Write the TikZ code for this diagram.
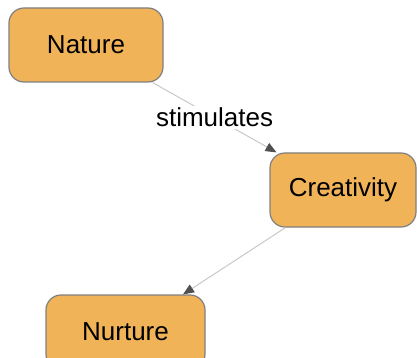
\documentclass[tikz,border=0pt]{standalone}
\usepackage{fontspec}
\setmainfont{Liberation Sans}
\usetikzlibrary{arrows.meta}
\definecolor{boxfill}{HTML}{F0B358}
\definecolor{boxline}{HTML}{7F7F7F}
\definecolor{edgeline}{HTML}{C8C8C8}
\definecolor{tipcol}{HTML}{505050}
\tikzset{
  concept/.style={draw=boxline, fill=boxfill, line width=1.2pt, rounded corners=15pt,
    minimum height=74pt, inner sep=0pt, font=\fontsize{26}{30}\selectfont},
  rel/.style={draw=edgeline, line width=1pt,
    -{Triangle[length=11pt,width=9pt,color=tipcol]}},
  rellabel/.style={fill=white, inner sep=2pt, font=\fontsize{26}{30}\selectfont}
}
\begin{document}
\begin{tikzpicture}[x=1pt,y=-1pt]
\useasboundingbox (0,0) rectangle (417,358);
\node[concept, minimum width=154pt] (nature) at (86,45) {Nature};
\node[concept, minimum width=146pt] (creativity) at (343,190) {Creativity};
\node[concept, minimum width=159pt] (nurture) at (125.5,332) {Nurture};
\draw[rel] (nature) -- node[rellabel] {stimulates} (creativity);
\draw[rel] (creativity) -- (nurture);
\end{tikzpicture}
\end{document}
